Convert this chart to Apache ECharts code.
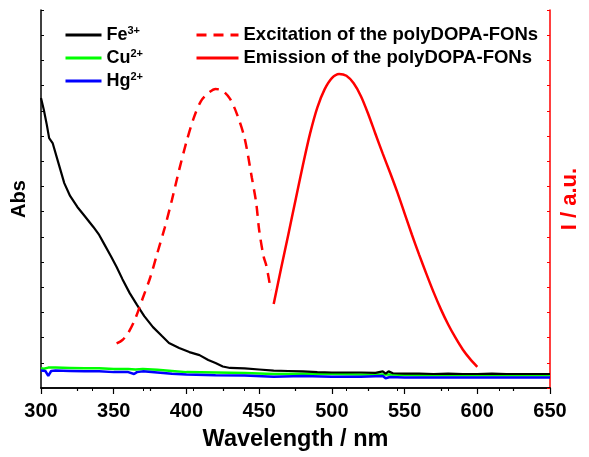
<!DOCTYPE html>
<html><head><meta charset="utf-8">
<script src="https://cdn.jsdelivr.net/npm/echarts@6/dist/echarts.min.js"></script>
<style>html,body{margin:0;padding:0;background:#fff}#c{width:589px;height:457px}</style>
</head><body><div id="c"></div>
<script>
// Fe3+ absorbance (arbitrary units, 0-100 scale)
var feX = [300,302,304,305.6,308,312,316,320,325,330,336,340,343,348,352,356,361,366,371,377,383,388,395,402,409,415,420,425,430,440,450,460,470,480,490,500,510,520,530,535,537,539,542,550,560,570,580,590,600,610,620,630,640,650];
var feY = [76.7,73.5,69.6,66.1,64.8,59.5,54.2,50.8,47.9,45.5,42.6,40.5,38.4,34.9,32.0,28.8,25.1,22.0,19.0,16.1,13.8,11.9,10.6,9.5,8.7,7.4,6.6,5.7,5.3,5.2,4.9,4.6,4.5,4.4,4.2,4.1,4.1,4.1,4.0,4.4,3.8,4.4,3.9,3.8,3.8,3.7,3.8,3.7,3.7,3.8,3.7,3.7,3.7,3.7];
// Cu2+
var cuX = [300,302,305,310,320,330,340,350,360,365,370,380,390,400,420,440,460,480,500,520,540,560,580,600,620,650];
var cuY = [5.2,5.1,5.4,5.4,5.3,5.2,5.2,5.0,5.0,4.9,5.0,4.8,4.5,4.2,4.1,4.0,3.7,3.8,3.7,3.6,3.6,3.4,3.4,3.4,3.4,3.4];
// Hg2+
var hgX = [300,303,305,307,310,320,330,340,350,360,364,366,370,380,390,400,420,440,460,480,500,520,535,537,540,550,570,600,625,650];
var hgY = [4.6,4.5,3.2,4.5,4.6,4.5,4.4,4.4,4.2,4.2,3.7,4.2,4.4,4.1,3.8,3.6,3.4,3.3,3.0,3.2,3.0,3.0,3.2,2.6,2.9,2.8,2.8,2.8,2.8,2.8];
// Excitation of the polyDOPA-FONs (intensity, a.u.)
var exX = [352,356,360,365,370,375,380,385,390,395,400,405,410,415,420,425,430,435,440,445,448,450,453,455,458];
var exY = [11.8,12.7,14.6,18.5,23.8,29.1,35.7,42.3,49.7,57.7,65.1,71.4,75.9,78.0,79.1,78.6,76.5,72.2,66.1,55.6,48.9,41.8,34.9,32.3,25.9];
// Emission of the polyDOPA-FONs (intensity, a.u.)
var emX = [460,465,470,475,480,485,490,495,500,505,510,515,520,525,530,535,540,545,550,555,560,565,570,575,580,585,590,595,600];
var emY = [22.2,31.5,40.5,49.7,58.8,67.3,74.2,79.0,82.0,83.1,82.6,80.6,77.2,72.5,67.2,62.0,57.0,51.8,46.2,40.6,35.3,30.2,25.3,20.8,16.8,13.3,10.2,7.7,5.6];
var xTicks = [300,350,400,450,500,550,600,650];

function pairs(xs, ys){ return xs.map(function(x,i){ return [x, ys[i]]; }); }
var FONT = 'Liberation Sans, Arial, sans-serif';
var supNames = {'Fe3+':['Fe','3+'],'Cu2+':['Cu','2+'],'Hg2+':['Hg','2+']};

var chart = echarts.init(document.getElementById('c'), null, {renderer:'canvas'});
chart.setOption({
  animation:false,
  backgroundColor:'#fff',
  grid:{left:41, right:34, top:10, bottom:69},
  legend:[{
    data:['Fe3+','Cu2+','Hg2+'], orient:'vertical', left:59, top:20,
    itemWidth:36, itemHeight:12, itemGap:3,
    itemStyle:{opacity:0}, lineStyle:{width:3},
    formatter:function(n){ var p=supNames[n] || [n,'']; return '{b|'+p[0]+'}{s|'+p[1]+'}'; },
    textStyle:{fontFamily:FONT, fontWeight:'bold', color:'#000', fontSize:18, lineHeight:20,
      rich:{b:{fontSize:18, fontWeight:'bold', fontFamily:FONT, color:'#000', lineHeight:20},
            s:{fontSize:11, fontWeight:'bold', fontFamily:FONT, color:'#000', padding:[0,0,9,0]}}}
  },{
    data:['Excitation of the polyDOPA-FONs','Emission of the polyDOPA-FONs'], orient:'vertical', left:190, top:20,
    itemWidth:42, itemHeight:12, itemGap:3,
    itemStyle:{opacity:0}, lineStyle:{width:3},
    textStyle:{fontFamily:FONT, fontWeight:'bold', color:'#000', fontSize:18.5, lineHeight:20}
  }],
  xAxis:[{
    type:'value', min:300, max:650, interval:50, position:'bottom',
    name:'Wavelength / nm', nameLocation:'middle', nameGap:40,
    nameTextStyle:{fontFamily:FONT, fontWeight:'bold', fontSize:23.5, color:'#000'},
    axisLine:{lineStyle:{color:'#000', width:1.5}},
    axisTick:{inside:false, length:6, lineStyle:{color:'#000', width:1.2}},
    minorTick:{show:true, splitNumber:2, length:3, lineStyle:{color:'#000', width:1.2}},
    splitLine:{show:false},
    axisLabel:{fontFamily:FONT, fontWeight:'bold', fontSize:20, color:'#000', margin:13,
      formatter:function(v){ return xTicks.indexOf(v)>=0 ? String(v) : ''; }}
  },{
    type:'value', min:0, max:10, interval:1, position:'top',
    axisLine:{show:true, lineStyle:{color:'#000', width:1.5}},
    axisTick:{inside:true, length:3, lineStyle:{color:'#000'}},
    axisLabel:{show:false}, splitLine:{show:false}
  }],
  yAxis:[{
    type:'value', min:0, max:100, interval:100/15, position:'left',
    name:'Abs', nameLocation:'middle', nameGap:12, nameRotate:90,
    nameTextStyle:{fontFamily:FONT, fontWeight:'bold', fontSize:20, color:'#000'},
    axisLine:{show:true, lineStyle:{color:'#000', width:1.5}},
    axisTick:{show:true, inside:true, length:3, lineStyle:{color:'#000'}},
    axisLabel:{show:false}, splitLine:{show:false}
  },{
    type:'value', min:0, max:100, interval:100/15, position:'right',
    name:'I / a.u.', nameLocation:'middle', nameGap:9, nameRotate:90,
    nameTextStyle:{fontFamily:FONT, fontWeight:'bold', fontSize:22, color:'#ff0000'},
    axisLine:{show:true, lineStyle:{color:'#ff0000', width:1.5}},
    axisTick:{show:true, inside:true, length:3, lineStyle:{color:'#ff0000'}},
    axisLabel:{show:false}, splitLine:{show:false}
  }],
  series:[
    {name:'Cu2+', type:'line', data:pairs(cuX,cuY), symbol:'none', color:'#00ff00', lineStyle:{color:'#00ff00', width:2.5}, z:2},
    {name:'Hg2+', type:'line', data:pairs(hgX,hgY), symbol:'none', color:'#0000ff', lineStyle:{color:'#0000ff', width:2.5}, z:3},
    {name:'Fe3+', type:'line', data:pairs(feX,feY), symbol:'none', color:'#000000', lineStyle:{color:'#000000', width:2.2}, z:4},
    {name:'Excitation of the polyDOPA-FONs', type:'line', yAxisIndex:1, data:pairs(exX,exY), symbol:'none', smooth:0.3, color:'#ff0000', lineStyle:{color:'#ff0000', width:2.5, type:[10,7]}, z:5},
    {name:'Emission of the polyDOPA-FONs', type:'line', yAxisIndex:1, data:pairs(emX,emY), symbol:'none', smooth:0.3, color:'#ff0000', lineStyle:{color:'#ff0000', width:2.5}, z:5}
  ]
});
</script></body></html>
